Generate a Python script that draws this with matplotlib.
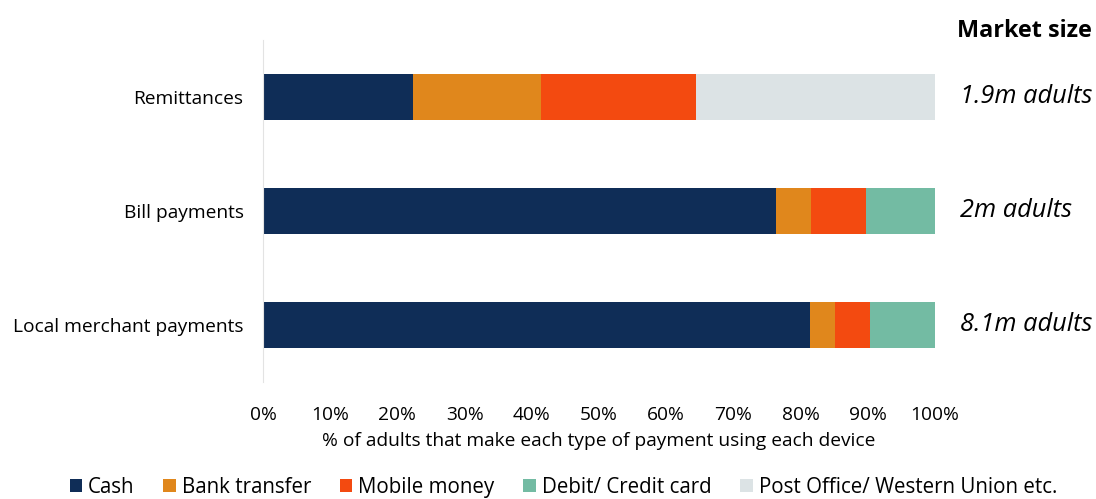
import matplotlib.pyplot as plt
import numpy as np

plt.rcParams['font.family'] = ['Open Sans', 'DejaVu Sans']

# Payment types, bottom to top
categories = ['Local merchant payments', 'Bill payments', 'Remittances']
market_size = ['8.1m adults', '2m adults', '1.9m adults']

# Share of adults (%) using each device
cash = [81.4, 76.3, 22.3]
bank_transfer = [3.7, 5.2, 19.1]
mobile_money = [5.2, 8.2, 23.0]
debit_credit = [9.7, 10.3, 0.0]
post_office = [0.0, 0.0, 35.6]

series = [
    ('Cash', cash, '#0f2d57'),
    ('Bank transfer', bank_transfer, '#e0871c'),
    ('Mobile money', mobile_money, '#f34a10'),
    ('Debit/ Credit card', debit_credit, '#73bba3'),
    ('Post Office/ Western Union etc.', post_office, '#dce3e5'),
]

fig = plt.figure(figsize=(10.96, 4.99), dpi=100)
ax = fig.add_axes([0.24, 0.2345, 0.613, 0.6854])

y = np.arange(len(categories))
left = np.zeros(len(categories))
for name, vals, color in series:
    ax.barh(y, vals, left=left, height=0.4, color=color, label=name)
    left += np.array(vals)

ax.set_xlim(0, 100)
ax.set_ylim(-0.5, 2.5)
ax.set_xticks(np.arange(0, 101, 10))
ax.set_xticklabels([f'{v}%' for v in range(0, 101, 10)], fontsize=13.8)
ax.set_yticks(y)
ax.set_yticklabels(categories, fontsize=13.8)
ax.tick_params(axis='x', length=0, pad=17)
ax.tick_params(axis='y', length=0, pad=14)
for side in ['top', 'right', 'bottom']:
    ax.spines[side].set_visible(False)
ax.spines['left'].set_color('#e3e3e3')
ax.set_xlabel('% of adults that make each type of payment using each device',
              fontsize=13.8, labelpad=6)

# Market size column
fig.text(0.9965, 0.937, 'Market size', fontsize=16.8, fontweight='bold',
         ha='right', va='center')
for yi, txt in zip(y, market_size):
    ax.text(103.7, yi, txt, fontsize=18.3, style='italic', va='center', ha='left')

fig.legend(loc='lower center', bbox_to_anchor=(0.514, -0.035), ncol=5,
           frameon=False, fontsize=14.8, handlelength=0.6, handleheight=0.6,
           handletextpad=0.3, columnspacing=1.4)

fig.savefig('out.png', dpi=100)
